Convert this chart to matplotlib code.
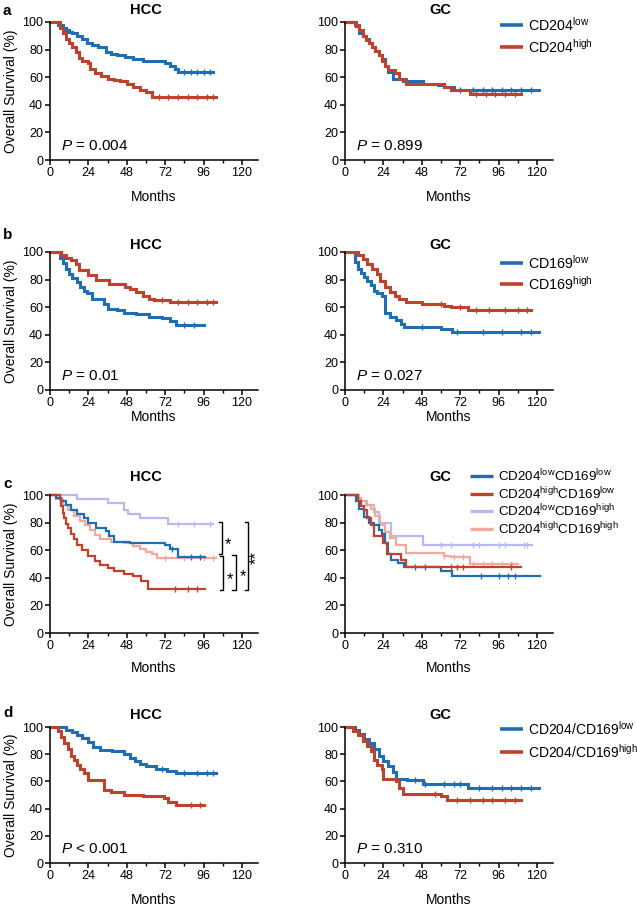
import matplotlib
matplotlib.use("Agg")
import matplotlib.pyplot as plt
from matplotlib.lines import Line2D
import numpy as np

# ---- data (months, % survival) ----
# a: CD204
a_hcc_low_t = [0, 5, 8, 10, 12, 14, 17, 20, 23, 26, 30, 35, 38, 42, 47, 52, 58, 72, 75, 78, 80]
a_hcc_low_s = [100, 98, 96, 94, 93, 92, 90, 88, 85, 83, 82, 78, 77, 76, 75, 73, 72, 70, 68, 66, 64]
a_hcc_high_t = [0, 6, 8, 10, 12, 14, 16, 18, 20, 24, 25, 28, 32, 36, 40, 44, 48, 52, 56, 60, 64]
a_hcc_high_s = [100, 96, 92, 88, 85, 82, 78, 74, 72, 70, 66, 63, 61, 59, 58, 57, 55, 53, 51, 49, 46]
a_gc_low_t = [0, 7, 9, 11, 13, 15, 17, 19, 21, 23, 25, 27, 30, 36, 49, 58, 62, 68]
a_gc_low_s = [100, 97, 92, 90, 88, 85, 82, 79, 76, 73, 68, 64, 59, 57, 55, 54, 53, 50.5]
a_gc_high_t = [0, 6, 9, 11, 13, 15, 17, 19, 21, 23, 25, 27, 31, 34, 38, 62, 66, 78]
a_gc_high_s = [100, 98, 94, 90, 87, 85, 82, 79, 76, 72, 68, 65, 63, 59, 55, 53, 51, 47.5]

# b: CD169
b_hcc_low_t = [0, 6, 8, 10, 12, 14, 17, 19, 21, 23, 26, 34, 36, 42, 46, 54, 62, 70, 75, 79]
b_hcc_low_s = [100, 96, 92, 88, 84, 81, 78, 75, 72, 70, 66, 62, 59, 58, 56, 55, 53, 52, 50, 47]
b_hcc_high_t = [0, 7, 10, 13, 16, 18, 24, 29, 37, 47, 50, 54, 58, 62, 65, 75]
b_hcc_high_s = [100, 98, 96, 94, 91, 87, 83, 80, 77, 75, 73, 71, 68, 66, 65, 64]
b_gc_low_t = [0, 6, 8, 10, 12, 14, 16, 18, 20, 23, 25, 28, 32, 35, 37, 60, 67]
b_gc_low_s = [100, 93, 88, 85, 82, 79, 76, 72, 70, 68, 56, 53, 51, 48, 46, 44, 42]
b_gc_high_t = [0, 8, 11, 14, 17, 20, 22, 25, 28, 31, 34, 38, 48, 62, 66, 77]
b_gc_high_s = [100, 98, 95, 91, 88, 84, 79, 75, 71, 68, 66, 64, 62, 61, 60, 58]

# c: CD204 x CD169
c_hcc_ll_t = [0, 4, 7, 10, 13, 17, 21, 24, 29, 35, 37, 40, 50, 72, 75, 80]
c_hcc_ll_s = [100, 98, 96, 93, 89, 86, 83, 80, 76, 74, 70, 66, 65, 64, 61, 55]
c_hcc_hl_t = [0, 6, 7, 8, 9, 10, 11, 13, 15, 17, 20, 24, 28, 31, 36, 40, 46, 52, 57, 61]
c_hcc_hl_s = [100, 97, 92, 87, 83, 79, 76, 72, 68, 64, 60, 56, 52, 49, 47, 45, 43, 41, 38, 32]
c_hcc_lh_t = [0, 17, 36, 46, 49, 56, 74]
c_hcc_lh_s = [100, 97, 94, 89, 86, 83, 79]
c_hcc_hh_t = [0, 4, 8, 11, 15, 19, 22, 25, 28, 31, 38, 46, 52, 56, 60, 64, 67]
c_hcc_hh_s = [100, 97, 93, 89, 85, 81, 78, 75, 71, 68, 66, 65, 63, 61, 59, 57, 54]
c_gc_ll_t = [0, 7, 9, 12, 15, 18, 21, 23, 25, 27, 29, 33, 37, 60, 67]
c_gc_ll_s = [100, 96, 90, 84, 80, 78, 75, 72, 65, 57, 53, 51, 48, 45, 41]
c_gc_hl_t = [0, 8, 10, 12, 14, 16, 18, 24, 26, 35, 38]
c_gc_hl_s = [100, 96, 92, 89, 83, 78, 70, 65, 57, 53, 48]
c_gc_lh_t = [0, 9, 14, 18, 21, 29, 49]
c_gc_lh_s = [100, 96, 93, 88, 80, 70, 64]
c_gc_hh_t = [0, 8, 10, 13, 16, 19, 22, 25, 28, 32, 38, 62, 66, 78]
c_gc_hh_s = [100, 98, 96, 93, 90, 85, 78, 73, 69, 64, 58, 56, 55, 50]

# d: CD204/CD169
d_hcc_low_t = [0, 10, 14, 17, 20, 24, 27, 31, 39, 46, 50, 53, 56, 60, 66, 73, 79]
d_hcc_low_s = [100, 98, 96, 94, 92, 89, 85, 83, 82, 80, 77, 75, 73, 71, 69, 68, 66]
d_hcc_high_t = [0, 5, 7, 9, 11, 13, 15, 17, 19, 21, 24, 34, 38, 46, 58, 71, 74, 79]
d_hcc_high_s = [100, 97, 93, 88, 84, 79, 76, 72, 69, 66, 61, 54, 52, 50, 49, 48, 45, 43]
d_gc_low_t = [0, 6, 9, 12, 15, 18, 21, 24, 27, 30, 32, 39, 49, 77]
d_gc_low_s = [100, 98, 95, 91, 88, 84, 79, 75, 71, 67, 62, 61, 58, 55]
d_gc_high_t = [0, 5, 8, 11, 14, 16, 18, 20, 23, 24, 32, 34, 36, 60, 64]
d_gc_high_s = [100, 97, 94, 90, 86, 82, 76, 72, 69, 62, 60, 55, 51, 49, 46]

# last follow-up of each curve
ends = {
    "a_hcc": [102, 104], "a_gc": [121, 110],
    "b_hcc": [96, 104], "b_gc": [121, 116],
    "c_hcc": [97, 97, 102, 104], "c_gc": [122, 110, 117, 108],
    "d_hcc": [104, 96], "d_gc": [121, 110],
}

# censored times
a_hcc_cens = [[84, 88, 92, 96, 100], [68, 74, 80, 86, 92, 98, 102]]
a_gc_cens = [[72, 80, 86, 92, 98, 104, 110, 116], [82, 88, 94, 100, 106]]
b_hcc_cens = [[84, 90], [70, 80, 86, 92, 98, 102]]
b_gc_cens = [[48, 70, 86, 98, 110, 116], [60, 72, 82, 90, 100, 108, 114]]
c_hcc_cens = [[76, 88, 94], [78, 86, 92], [80, 90, 100], [72, 84, 96, 102]]
c_gc_cens = [[44, 50, 85, 96, 102, 106], [66, 70, 74, 104], [60, 66, 80, 84, 96, 100, 112, 114],
             [62, 68, 74, 80, 86, 92, 98, 104]]
d_hcc_cens = [[70, 84, 92, 98, 102], [88, 94]]
d_gc_cens = [[44, 50, 62, 68, 72, 84, 92, 98, 104, 110, 116], [56, 70, 78, 86, 92, 100, 106]]

p_values = ["0.004", "0.899", "0.01", "0.027", None, None, "< 0.001", "0.310"]

# significance brackets in c HCC: x, tick start, top, bottom
brk_x = [107.5, 108.2, 116, 124]
brk_l = [105.5, 106, 113.7, 122]
brk_top = [80.5, 55.5, 56.5, 80.5]
brk_bot = [57.5, 31.5, 31, 31.5]
star_x = [111.5, 112.5, 120.5, 129]
star_y = [64, 39, 41, 55]
star_txt = ["*", "*", "*", "**"]

BLUE = "#1f6db3"
RED = "#c0422d"
LAV = "#b9b9f2"
PINK = "#f0a99c"

plt.rcParams["font.family"] = ["Liberation Sans", "DejaVu Sans"]
plt.rcParams["mathtext.fontset"] = "custom"
plt.rcParams["mathtext.rm"] = "Liberation Sans"
plt.rcParams["mathtext.it"] = "Liberation Sans:italic"
plt.rcParams["mathtext.bf"] = "Liberation Sans:bold"

W, H = 637, 911
fig = plt.figure(figsize=(W / 100, H / 100), dpi=100)


def px_axes(l, t, r, b):
    return fig.add_axes([l / W, 1 - b / H, (r - l) / W, (b - t) / H])


def km(ax, t, s, end, cens, color, lw):
    tt = list(t) + [end]
    ss = list(s) + [s[-1]]
    ax.step(tt, ss, where="post", color=color, lw=lw, clip_on=False, solid_joinstyle="miter")
    ct = np.array(cens)
    idx = np.searchsorted(np.array(t), ct, side="right") - 1
    ax.plot(ct, np.array(s)[idx], ls="none", marker="|", ms=4, mew=1.0, color=color, clip_on=False)


def style(ax, xlabpad):
    ax.set_xlim(0, 130)
    ax.set_ylim(0, 100)
    for sp in ["top", "right"]:
        ax.spines[sp].set_visible(False)
    for sp in ["left", "bottom"]:
        ax.spines[sp].set_linewidth(1.1)
    ax.set_xticks([0, 24, 48, 72, 96, 120])
    ax.set_xticks([12, 36, 60, 84, 108], minor=True)
    ax.set_yticks([0, 20, 40, 60, 80, 100])
    ax.tick_params(which="major", direction="out", length=3.5, width=1.1, labelsize=9, pad=1.5)
    ax.tick_params(which="minor", direction="out", length=2.2, width=1.0)
    ax.set_xlabel("Months", fontsize=10, labelpad=xlabpad)


def legend(x0, y0, dy, labels, colors, fs, lw):
    for i, (lab, c) in enumerate(zip(labels, colors)):
        y = 1 - (y0 + i * dy) / H
        fig.add_artist(Line2D([x0 / W, (x0 + 23) / W], [y, y], transform=fig.transFigure,
                              color=c, lw=lw, solid_capstyle="butt"))
        fig.text((x0 + 28) / W, y, lab, fontsize=fs, va="center", ha="left")


rows = [(22, 160), (252, 390), (495, 633), (727, 863)]
cols = [(50, 258), (345, 553)]
title_gap = [12, 7, 18, 12]
xlabpads = [8.3, 1.1, 6.2, 8.0]
letters = ["a", "b", "c", "d"]
letter_y = [11, 235, 484, 713]

curves = [
    [(a_hcc_low_t, a_hcc_low_s, BLUE), (a_hcc_high_t, a_hcc_high_s, RED)],
    [(a_gc_low_t, a_gc_low_s, BLUE), (a_gc_high_t, a_gc_high_s, RED)],
    [(b_hcc_low_t, b_hcc_low_s, BLUE), (b_hcc_high_t, b_hcc_high_s, RED)],
    [(b_gc_low_t, b_gc_low_s, BLUE), (b_gc_high_t, b_gc_high_s, RED)],
    [(c_hcc_lh_t, c_hcc_lh_s, LAV), (c_hcc_hh_t, c_hcc_hh_s, PINK),
     (c_hcc_ll_t, c_hcc_ll_s, BLUE), (c_hcc_hl_t, c_hcc_hl_s, RED)],
    [(c_gc_lh_t, c_gc_lh_s, LAV), (c_gc_hh_t, c_gc_hh_s, PINK),
     (c_gc_ll_t, c_gc_ll_s, BLUE), (c_gc_hl_t, c_gc_hl_s, RED)],
    [(d_hcc_low_t, d_hcc_low_s, BLUE), (d_hcc_high_t, d_hcc_high_s, RED)],
    [(d_gc_low_t, d_gc_low_s, BLUE), (d_gc_high_t, d_gc_high_s, RED)],
]
keys = ["a_hcc", "a_gc", "b_hcc", "b_gc", "c_hcc", "c_gc", "d_hcc", "d_gc"]
cens_all = [a_hcc_cens, a_gc_cens, b_hcc_cens, b_gc_cens, c_hcc_cens, c_gc_cens, d_hcc_cens, d_gc_cens]
# end/cens lists are ordered ll, hl, lh, hh for row c; curves drawn lh, hh, ll, hl
c_order = [2, 3, 0, 1]

for k in range(8):
    r, c = divmod(k, 2)
    top, bot = rows[r]
    left, right = cols[c]
    ax = px_axes(left, top, right, bot)
    style(ax, xlabpads[r])
    lw = 1.6 if r == 2 else 2.2
    for j, (t, s, col) in enumerate(curves[k]):
        jj = c_order[j] if r == 2 else j
        km(ax, t, s, ends[keys[k]][jj], cens_all[k][jj], col, lw)
    ax.text(0.46, 1 + title_gap[r] / (bot - top), "HCC" if c == 0 else "GC", transform=ax.transAxes,
            ha="center", va="center", fontsize=10.5, fontweight="bold")
    if c == 0:
        ax.set_ylabel("Overall Survival (%)", fontsize=10, labelpad=3)
        fig.text(3 / W, 1 - letter_y[r] / H, letters[r], fontsize=11, fontweight="bold", va="center")
    if p_values[k] is not None:
        pv = p_values[k]
        txt = r"$P$ " + pv if pv.startswith("<") else r"$P$ = " + pv
        ax.text(7, 10, txt, fontsize=11, va="center", ha="left")
    if k == 4:
        for i in range(4):
            ax.plot([brk_l[i], brk_x[i], brk_x[i], brk_l[i]],
                    [brk_top[i], brk_top[i], brk_bot[i], brk_bot[i]],
                    color="black", lw=1, clip_on=False)
            ax.text(star_x[i], star_y[i], star_txt[i], fontsize=12, ha="center", va="center",
                    rotation=90 if len(star_txt[i]) > 1 else 0)

legend(500, 25, 22, [r"CD204$^{\mathrm{low}}$", r"CD204$^{\mathrm{high}}$"], [BLUE, RED], 10.3, 2.6)
legend(500, 263, 21, [r"CD169$^{\mathrm{low}}$", r"CD169$^{\mathrm{high}}$"], [BLUE, RED], 10.3, 2.6)
legend(470, 476, 17.7,
       [r"CD204$^{\mathrm{low}}$CD169$^{\mathrm{low}}$", r"CD204$^{\mathrm{high}}$CD169$^{\mathrm{low}}$",
        r"CD204$^{\mathrm{low}}$CD169$^{\mathrm{high}}$", r"CD204$^{\mathrm{high}}$CD169$^{\mathrm{high}}$"],
       [BLUE, RED, LAV, PINK], 9.6, 2.4)
legend(500, 729, 23, [r"CD204/CD169$^{\mathrm{low}}$", r"CD204/CD169$^{\mathrm{high}}$"], [BLUE, RED], 10, 2.6)

fig.savefig("out.png", dpi=100)
